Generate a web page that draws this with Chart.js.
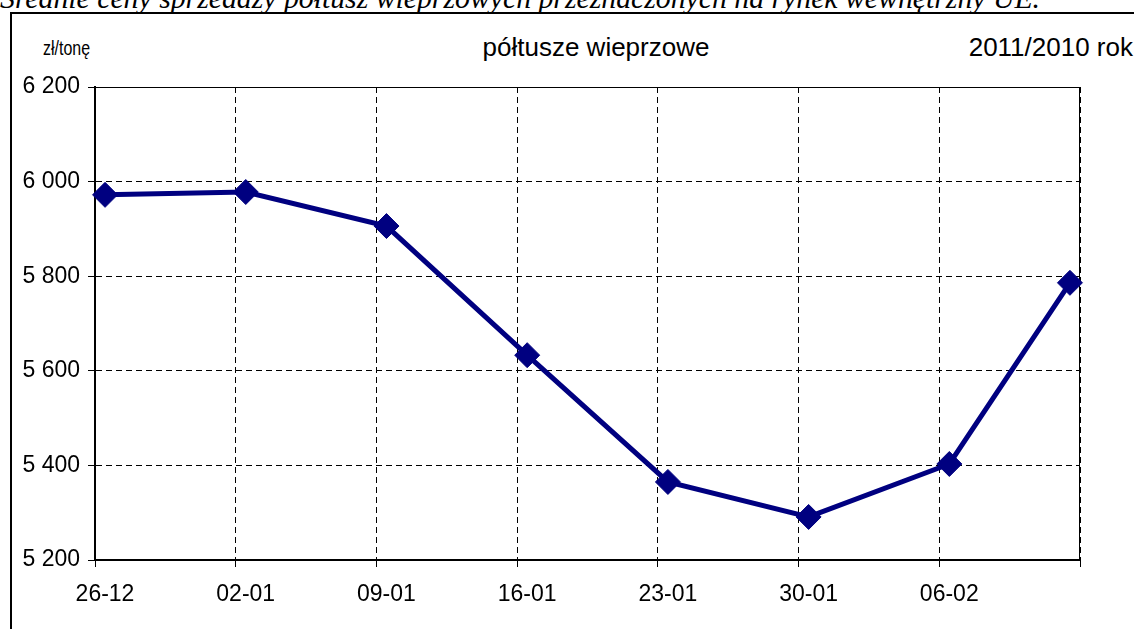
<!DOCTYPE html>
<html><head><meta charset="utf-8">
<script src="https://cdn.jsdelivr.net/npm/chart.js@4.4.1/dist/chart.umd.min.js"></script>
<style>
html,body{margin:0;padding:0;background:#fff;overflow:hidden;width:1134px;height:629px;position:relative;font-family:"Liberation Sans",Arial,sans-serif;}
#frame{position:absolute;left:10px;top:12px;width:1200px;height:700px;border-left:2px solid #000;border-top:2px solid #000;}
#title{position:absolute;left:0;top:-17px;font-family:"Liberation Serif","Times New Roman",serif;font-style:italic;font-weight:normal;font-size:30px;line-height:30px;white-space:nowrap;transform-origin:0 0;color:#000;}
.lbl{position:absolute;color:#000;white-space:nowrap;}
#unit{transform-origin:0 0;}
#wrap{position:absolute;left:0;top:0;width:1134px;height:629px;}
</style></head><body>
<div id="title">Średnie ceny sprzedaży półtusz wieprzowych przeznaczonych na rynek wewnętrzny UE.</div>
<div id="frame"></div>
<div class="lbl" id="unit" style="left:43px;top:36px;font-size:21px;line-height:24px">zł/tonę</div>
<div class="lbl" style="left:396px;width:400px;top:32px;font-size:26px;line-height:30px;text-align:center">półtusze wieprzowe</div>
<div class="lbl" style="right:1px;top:32px;font-size:26px;line-height:30px;text-align:right">2011/2010 rok</div>
<div id="wrap"><canvas id="c" width="1134" height="629"></canvas></div>
<script>
// ---- data ----
const dates = ['26-12','02-01','09-01','16-01','23-01','30-01','06-02','12-02'];
const dayOffsets = [0, 7, 14, 21, 28, 35, 42, 48];
const prices = [5972, 5978, 5906, 5633, 5365, 5291, 5403, 5786];
const weekTickLabels = ['26-12','02-01','09-01','16-01','23-01','30-01','06-02',''];
const weekTickDays = [0, 7, 14, 21, 28, 35, 42, 49];
const yMin = 5200, yMax = 6200, yStep = 200;

// text stretch to match reference widths
function fitWidth(id, target) {
  const t = document.getElementById(id);
  const w = t.getBoundingClientRect().width;
  t.style.transform = 'scaleX(' + (target / w) + ')';
}
fitWidth('title', 1040);
fitWidth('unit', 47);

Chart.defaults.font.family = "'Liberation Sans', Arial, sans-serif";
Chart.defaults.font.size = 23;
Chart.defaults.color = '#000';

const frameBorder = {
  id: 'frameBorder',
  beforeDatasetsDraw(chart) {
    const {ctx, chartArea: a} = chart;
    ctx.save();
    ctx.strokeStyle = '#000';
    ctx.setLineDash([]);
    ctx.lineWidth = 1;
    ctx.beginPath();
    ctx.moveTo(a.left, a.top + 0.5); ctx.lineTo(a.right, a.top + 0.5);
    ctx.moveTo(a.right - 0.5, a.top); ctx.lineTo(a.right - 0.5, a.bottom);
    ctx.stroke();
    ctx.lineWidth = 2;
    ctx.beginPath();
    ctx.moveTo(a.left, a.top); ctx.lineTo(a.left, a.bottom);
    ctx.lineTo(a.right, a.bottom);
    ctx.stroke();
    ctx.restore();
  }
};

new Chart(document.getElementById('c'), {
  type: 'line',
  data: {
    datasets: [{
      label: 'półtusze wieprzowe',
      data: dayOffsets.map((d, i) => ({x: d, y: prices[i]})),
      borderColor: '#000080',
      backgroundColor: '#000080',
      borderWidth: 5,
      pointStyle: 'rectRot',
      pointRadius: 12.5,
      pointHoverRadius: 12.5,
      pointBorderWidth: 1,
      pointBackgroundColor: '#000080',
      pointBorderColor: '#000080',
      tension: 0,
      clip: false
    }]
  },
  options: {
    responsive: false,
    animation: false,
    events: [],
    layout: {padding: {top: 87, right: 54, left: 0, bottom: 0}},
    plugins: {legend: {display: false}, tooltip: {enabled: false}, title: {display: false}},
    scales: {
      x: {
        type: 'linear',
        min: -0.5, max: 48.5,
        afterBuildTicks(s) { s.ticks = weekTickDays.map(d => ({value: d - 0.5})); },
        afterFit(s) { s.height = 69; },
        ticks: {
          autoSkip: false, maxRotation: 0, minRotation: 0,
          padding: 14, labelOffset: 10,
          callback: (v, i) => weekTickLabels[i]
        },
        grid: {color: '#000', lineWidth: 1, drawTicks: true, tickLength: 7, tickColor: '#000', tickWidth: 1},
        border: {display: true, color: '#000', width: 2, dash: [6, 4]}
      },
      y: {
        min: yMin, max: yMax,
        afterFit(s) { s.width = 95; },
        ticks: {
          stepSize: yStep, padding: 8,
          callback: v => String(v).replace(/\B(?=(\d{3})+(?!\d))/g, ' ')
        },
        grid: {color: '#000', lineWidth: 1, drawTicks: true, tickLength: 7, tickColor: '#000', tickWidth: 1},
        border: {display: true, color: '#000', width: 2, dash: [6, 4]}
      }
    }
  },
  plugins: [frameBorder]
});
</script>
</body></html>
